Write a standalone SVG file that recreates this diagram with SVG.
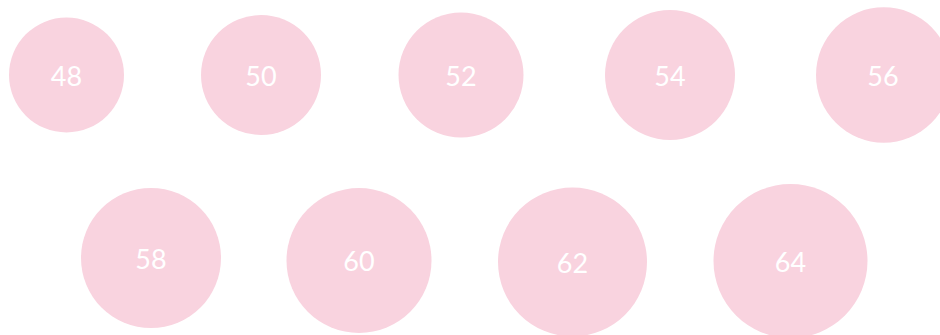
<svg xmlns="http://www.w3.org/2000/svg" width="940" height="335" viewBox="0 0 940 335">
<style>
.c{fill:#F9D3DF}
.t{fill:#fff;font-family:Lato,"Open Sans",sans-serif;font-size:27px;text-anchor:middle}
</style>
<rect width="940" height="335" fill="#fff"/>
<g id="n48"><circle class="c" cx="66.5" cy="75" r="57.5"/><text class="t" x="66.5" y="85.5">48</text></g>
<g id="n50"><circle class="c" cx="261" cy="75" r="60"/><text class="t" x="261" y="85.5">50</text></g>
<g id="n52"><circle class="c" cx="461" cy="75" r="62.5"/><text class="t" x="461" y="85.5">52</text></g>
<g id="n54"><circle class="c" cx="670" cy="75" r="65"/><text class="t" x="670" y="85.5">54</text></g>
<g id="n56"><circle class="c" cx="883.7" cy="75" r="67.7"/><text class="t" x="883" y="85.5">56</text></g>
<g id="n58"><circle class="c" cx="151" cy="258" r="70"/><text class="t" x="151" y="268.5">58</text></g>
<g id="n60"><circle class="c" cx="359" cy="260.5" r="72.5"/><text class="t" x="359" y="271">60</text></g>
<g id="n62"><circle class="c" cx="572.5" cy="262" r="74.5"/><text class="t" x="572.5" y="272.5">62</text></g>
<g id="n64"><circle class="c" cx="790.5" cy="261" r="77"/><text class="t" x="790.5" y="271.5">64</text></g>
<g id="connectors"/>
</svg>
